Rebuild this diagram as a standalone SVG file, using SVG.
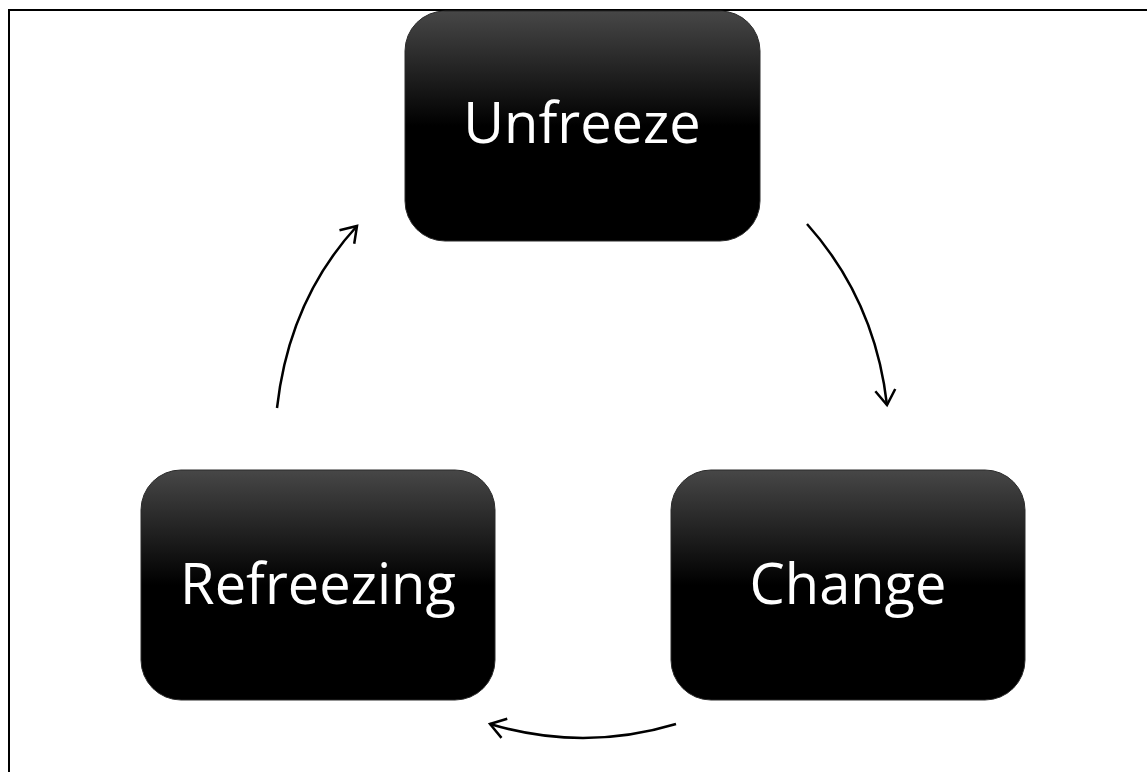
<svg xmlns="http://www.w3.org/2000/svg" width="1147" height="772" viewBox="0 0 1147 772">
  <style>
    .box { fill: url(#g); stroke: #2a2a2a; stroke-width: 1; }
    .lbl { fill: #ffffff; font-family: "Open Sans", "Liberation Sans", sans-serif; font-size: 56px; text-anchor: middle; }
    .conn { fill: none; stroke: #000; stroke-width: 2.5; marker-end: url(#ah); }
  </style>
  <defs>
    <linearGradient id="g" x1="0" y1="0" x2="0" y2="1">
      <stop offset="0" stop-color="#474747"/>
      <stop offset="0.5" stop-color="#000000"/>
      <stop offset="1" stop-color="#000000"/>
    </linearGradient>
    <marker id="ah" markerUnits="userSpaceOnUse" markerWidth="24" markerHeight="24" viewBox="-20 -12 24 24" refX="0" refY="0" orient="auto">
      <path d="M-15,-10 L0,0 L-15,10" fill="none" stroke="#000" stroke-width="2.5"/>
    </marker>
  </defs>
  <path d="M9,772 L9,10 L1147,10" fill="none" stroke="#000" stroke-width="2"/>
  <g id="unfreeze">
    <rect class="box" x="405" y="11" width="355" height="230" rx="40"/>
    <text class="lbl" x="582" y="143">Unfreeze</text>
  </g>
  <g id="change">
    <rect class="box" x="671" y="470" width="354" height="230" rx="40"/>
    <text class="lbl" x="848" y="604">Change</text>
  </g>
  <g id="refreezing">
    <rect class="box" x="141" y="470" width="354" height="230" rx="40"/>
    <text class="lbl" x="318" y="604">Refreezing</text>
  </g>
  <g id="connectors">
    <path class="conn" d="M807,224 Q875,300 887,405"/>
    <path class="conn" d="M676,724 Q583,752 490,724"/>
    <path class="conn" d="M277,408 Q289,300 357,226"/>
  </g>
</svg>
